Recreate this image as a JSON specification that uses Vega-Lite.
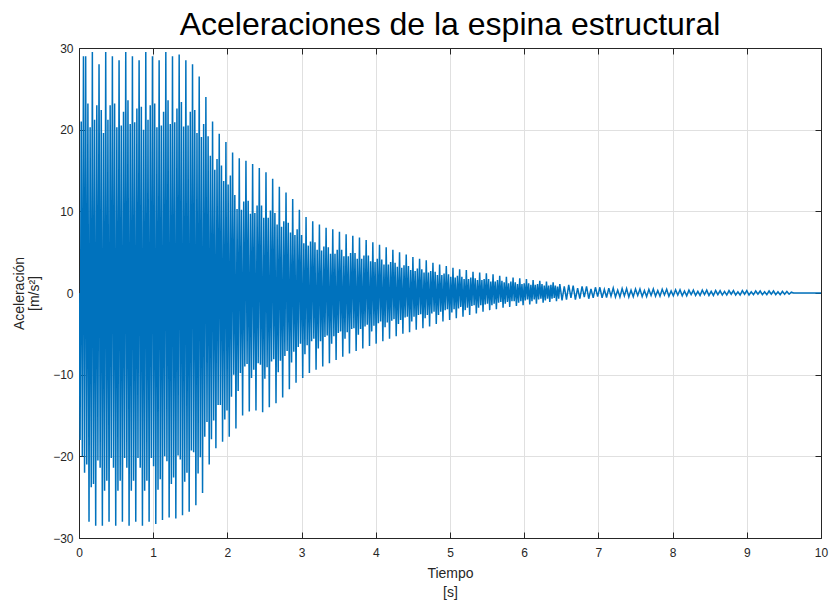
{
  "$schema": "https://vega.github.io/schema/vega-lite/v6.json",
  "width": 742,
  "height": 490,
  "autosize": "none",
  "padding": {"left": 79, "top": 48, "right": 10, "bottom": 62},
  "background": "white",
  "title": {"text": "Aceleraciones de la espina estructural", "fontSize": 32, "font": "Liberation Sans", "fontWeight": "normal", "color": "#000000", "anchor": "middle", "offset": 0},
  "config": {
    "font": "Liberation Sans",
    "view": {"stroke": null},
    "axis": {"domainColor": "#262626", "tickColor": "#262626", "labelColor": "#262626", "titleColor": "#262626", "labelFont": "Liberation Sans", "titleFont": "Liberation Sans", "titleFontWeight": "normal", "gridColor": "#e0e0e0", "gridOpacity": 1, "labelFlush": false}
  },
  "data": {"values": [
{"t":0,"a":0},{"t":0.015,"a":-18},{"t":0.03,"a":21},{"t":0.045,"a":-20},{"t":0.06,"a":29},{"t":0.075,"a":-22},
{"t":0.09,"a":29},{"t":0.105,"a":-21},{"t":0.12,"a":23.2},{"t":0.135,"a":-28},{"t":0.15,"a":20.3},{"t":0.165,"a":-23.8},
{"t":0.18,"a":29.5},{"t":0.195,"a":-23.4},{"t":0.21,"a":21.2},{"t":0.225,"a":-28.5},{"t":0.24,"a":23},{"t":0.255,"a":-20.5},
{"t":0.27,"a":28},{"t":0.285,"a":-21.4},{"t":0.3,"a":22.4},{"t":0.315,"a":-28.5},{"t":0.33,"a":19.6},{"t":0.345,"a":-24.2},
{"t":0.36,"a":29.5},{"t":0.375,"a":-23},{"t":0.39,"a":21.2},{"t":0.405,"a":-28},{"t":0.42,"a":23},{"t":0.435,"a":-20.2},
{"t":0.45,"a":29},{"t":0.465,"a":-21.4},{"t":0.48,"a":23.2},{"t":0.495,"a":-28.5},{"t":0.51,"a":20.3},{"t":0.525,"a":-24.2},
{"t":0.54,"a":28.5},{"t":0.555,"a":-23},{"t":0.57,"a":20.5},{"t":0.585,"a":-28},{"t":0.6,"a":22.2},{"t":0.615,"a":-20.2},
{"t":0.63,"a":29.5},{"t":0.645,"a":-21.4},{"t":0.66,"a":23.6},{"t":0.675,"a":-28.5},{"t":0.69,"a":20.7},{"t":0.705,"a":-24.2},
{"t":0.72,"a":29},{"t":0.735,"a":-23},{"t":0.75,"a":20.9},{"t":0.765,"a":-28},{"t":0.78,"a":22.6},{"t":0.795,"a":-20.2},
{"t":0.81,"a":28.5},{"t":0.825,"a":-21.4},{"t":0.84,"a":22.8},{"t":0.855,"a":-28.5},{"t":0.87,"a":20},{"t":0.885,"a":-24.2},
{"t":0.9,"a":29.5},{"t":0.915,"a":-23},{"t":0.93,"a":21.2},{"t":0.945,"a":-28},{"t":0.96,"a":23},{"t":0.975,"a":-20.2},
{"t":0.99,"a":29},{"t":1.005,"a":-21.2},{"t":1.02,"a":23.2},{"t":1.035,"a":-28.3},{"t":1.05,"a":20.3},{"t":1.065,"a":-24.1},
{"t":1.08,"a":28.5},{"t":1.095,"a":-22.8},{"t":1.11,"a":20.5},{"t":1.125,"a":-27.8},{"t":1.14,"a":22.2},{"t":1.155,"a":-20},
{"t":1.17,"a":29.5},{"t":1.185,"a":-20.6},{"t":1.2,"a":23.6},{"t":1.215,"a":-27.5},{"t":1.23,"a":20.7},{"t":1.245,"a":-23.4},
{"t":1.26,"a":29},{"t":1.275,"a":-22.6},{"t":1.29,"a":20.9},{"t":1.305,"a":-27.6},{"t":1.32,"a":22.6},{"t":1.335,"a":-19.9},
{"t":1.35,"a":29.2},{"t":1.365,"a":-20.4},{"t":1.38,"a":23.4},{"t":1.395,"a":-27.2},{"t":1.41,"a":20.4},{"t":1.425,"a":-23.1},
{"t":1.44,"a":28.5},{"t":1.455,"a":-22},{"t":1.47,"a":20.5},{"t":1.485,"a":-26.8},{"t":1.5,"a":22.2},{"t":1.515,"a":-19.3},
{"t":1.53,"a":28},{"t":1.545,"a":-19.5},{"t":1.56,"a":22.4},{"t":1.575,"a":-26},{"t":1.59,"a":19.6},{"t":1.605,"a":-22.1},
{"t":1.62,"a":26.5},{"t":1.635,"a":-20.1},{"t":1.65,"a":19.1},{"t":1.665,"a":-24.5},{"t":1.68,"a":20.7},{"t":1.695,"a":-17.6},
{"t":1.71,"a":24},{"t":1.725,"a":-15.8},{"t":1.74,"a":19.2},{"t":1.755,"a":-21},{"t":1.77,"a":16.8},{"t":1.785,"a":-17.9},
{"t":1.8,"a":21},{"t":1.815,"a":-15.6},{"t":1.83,"a":15.1},{"t":1.845,"a":-19},{"t":1.86,"a":16.4},{"t":1.875,"a":-13.7},
{"t":1.89,"a":19.5},{"t":1.905,"a":-13.7},{"t":1.92,"a":15.6},{"t":1.935,"a":-18.2},{"t":1.95,"a":13.7},{"t":1.965,"a":-15.5},
{"t":1.98,"a":18.5},{"t":1.995,"a":-14.4},{"t":2.01,"a":13.3},{"t":2.025,"a":-17.6},{"t":2.04,"a":14.4},{"t":2.055,"a":-12.7},
{"t":2.07,"a":17.2},{"t":2.085,"a":-10},{"t":2.1,"a":12},{"t":2.115,"a":-16.6},{"t":2.13,"a":10.3},{"t":2.145,"a":-12},
{"t":2.16,"a":16.5},{"t":2.175,"a":-9.8},{"t":2.19,"a":10.2},{"t":2.205,"a":-15},{"t":2.22,"a":11.2},{"t":2.235,"a":-9},
{"t":2.25,"a":16.2},{"t":2.265,"a":-8.7},{"t":2.28,"a":11.3},{"t":2.295,"a":-14.5},{"t":2.31,"a":9.7},{"t":2.325,"a":-10.4},
{"t":2.34,"a":15.8},{"t":2.355,"a":-9.4},{"t":2.37,"a":9.8},{"t":2.385,"a":-14.4},{"t":2.4,"a":10.7},{"t":2.415,"a":-8.6},
{"t":2.43,"a":15.3},{"t":2.445,"a":-8.8},{"t":2.46,"a":10.7},{"t":2.475,"a":-14.6},{"t":2.49,"a":9.2},{"t":2.505,"a":-10.5},
{"t":2.52,"a":14.8},{"t":2.535,"a":-9.1},{"t":2.55,"a":9.2},{"t":2.565,"a":-14},{"t":2.58,"a":10.1},{"t":2.595,"a":-8.4},
{"t":2.61,"a":14},{"t":2.625,"a":-8.1},{"t":2.64,"a":9.8},{"t":2.655,"a":-13.5},{"t":2.67,"a":8.4},{"t":2.685,"a":-9.7},
{"t":2.7,"a":13},{"t":2.715,"a":-8.3},{"t":2.73,"a":8.1},{"t":2.745,"a":-12.8},{"t":2.76,"a":8.8},{"t":2.775,"a":-7.7},
{"t":2.79,"a":12.3},{"t":2.805,"a":-7.1},{"t":2.82,"a":8.6},{"t":2.835,"a":-11.8},{"t":2.85,"a":7.4},{"t":2.865,"a":-8.5},
{"t":2.88,"a":11.5},{"t":2.895,"a":-7.2},{"t":2.91,"a":7.1},{"t":2.925,"a":-11},{"t":2.94,"a":7.8},{"t":2.955,"a":-6.6},
{"t":2.97,"a":10.2},{"t":2.985,"a":-6.2},{"t":3.0,"a":7.1},{"t":3.015,"a":-10.4},{"t":3.03,"a":6.1},{"t":3.045,"a":-7.5},
{"t":3.06,"a":9.3},{"t":3.075,"a":-6.4},{"t":3.09,"a":5.8},{"t":3.105,"a":-9.8},{"t":3.12,"a":6.3},{"t":3.135,"a":-5.9},
{"t":3.15,"a":8.8},{"t":3.165,"a":-5.6},{"t":3.18,"a":6.2},{"t":3.195,"a":-9.4},{"t":3.21,"a":5.3},{"t":3.225,"a":-6.8},
{"t":3.24,"a":8.4},{"t":3.255,"a":-5.9},{"t":3.27,"a":5.2},{"t":3.285,"a":-9},{"t":3.3,"a":5.7},{"t":3.315,"a":-5.4},
{"t":3.33,"a":8},{"t":3.345,"a":-5.2},{"t":3.36,"a":5.6},{"t":3.375,"a":-8.6},{"t":3.39,"a":4.8},{"t":3.405,"a":-6.2},
{"t":3.42,"a":7.8},{"t":3.435,"a":-5.3},{"t":3.45,"a":4.8},{"t":3.465,"a":-8.2},{"t":3.48,"a":5.3},{"t":3.495,"a":-4.9},
{"t":3.51,"a":7.5},{"t":3.525,"a":-4.7},{"t":3.54,"a":5.3},{"t":3.555,"a":-7.8},{"t":3.57,"a":4.5},{"t":3.585,"a":-5.6},
{"t":3.6,"a":7.2},{"t":3.615,"a":-4.8},{"t":3.63,"a":4.5},{"t":3.645,"a":-7.4},{"t":3.66,"a":4.9},{"t":3.675,"a":-4.4},
{"t":3.69,"a":7},{"t":3.705,"a":-4.3},{"t":3.72,"a":4.9},{"t":3.735,"a":-7.1},{"t":3.75,"a":4.2},{"t":3.765,"a":-5.1},
{"t":3.78,"a":6.8},{"t":3.795,"a":-4.4},{"t":3.81,"a":4.2},{"t":3.825,"a":-6.8},{"t":3.84,"a":4.6},{"t":3.855,"a":-4.1},
{"t":3.87,"a":6.5},{"t":3.885,"a":-3.9},{"t":3.9,"a":4.6},{"t":3.915,"a":-6.5},{"t":3.93,"a":3.9},{"t":3.945,"a":-4.7},
{"t":3.96,"a":6.2},{"t":3.975,"a":-4},{"t":3.99,"a":3.8},{"t":4.005,"a":-6.2},{"t":4.02,"a":4.2},{"t":4.035,"a":-3.7},
{"t":4.05,"a":5.9},{"t":4.065,"a":-3.5},{"t":4.08,"a":4.1},{"t":4.095,"a":-5.9},{"t":4.11,"a":3.5},{"t":4.125,"a":-4.2},
{"t":4.14,"a":5.6},{"t":4.155,"a":-3.6},{"t":4.17,"a":3.5},{"t":4.185,"a":-5.6},{"t":4.2,"a":3.8},{"t":4.215,"a":-3.4},
{"t":4.23,"a":5.3},{"t":4.245,"a":-3.2},{"t":4.26,"a":3.7},{"t":4.275,"a":-5.3},{"t":4.29,"a":3.2},{"t":4.305,"a":-3.8},
{"t":4.32,"a":5},{"t":4.335,"a":-3.3},{"t":4.35,"a":3.1},{"t":4.365,"a":-5},{"t":4.38,"a":3.4},{"t":4.395,"a":-3},
{"t":4.41,"a":4.7},{"t":4.425,"a":-2.9},{"t":4.44,"a":3.3},{"t":4.455,"a":-4.8},{"t":4.47,"a":2.8},{"t":4.485,"a":-3.5},
{"t":4.5,"a":4.4},{"t":4.515,"a":-2.9},{"t":4.53,"a":2.7},{"t":4.545,"a":-4.5},{"t":4.56,"a":3},{"t":4.575,"a":-2.7},
{"t":4.59,"a":4.2},{"t":4.605,"a":-2.6},{"t":4.62,"a":2.9},{"t":4.635,"a":-4.3},{"t":4.65,"a":2.5},{"t":4.665,"a":-3.1},
{"t":4.68,"a":4},{"t":4.695,"a":-2.7},{"t":4.71,"a":2.5},{"t":4.725,"a":-4.1},{"t":4.74,"a":2.7},{"t":4.755,"a":-2.5},
{"t":4.77,"a":3.7},{"t":4.785,"a":-2.3},{"t":4.8,"a":2.6},{"t":4.815,"a":-3.8},{"t":4.83,"a":2.2},{"t":4.845,"a":-2.7},
{"t":4.86,"a":3.5},{"t":4.875,"a":-2.3},{"t":4.89,"a":2.2},{"t":4.905,"a":-3.5},{"t":4.92,"a":2.4},{"t":4.935,"a":-2.1},
{"t":4.95,"a":3.3},{"t":4.965,"a":-2},{"t":4.98,"a":2.3},{"t":4.995,"a":-3.3},{"t":5.01,"a":2},{"t":5.025,"a":-2.4},
{"t":5.04,"a":3.1},{"t":5.055,"a":-2},{"t":5.07,"a":1.9},{"t":5.085,"a":-3.1},{"t":5.1,"a":2.1},{"t":5.115,"a":-1.9},
{"t":5.13,"a":2.9},{"t":5.145,"a":-1.7},{"t":5.16,"a":2},{"t":5.175,"a":-2.9},{"t":5.19,"a":1.7},{"t":5.205,"a":-2.1},
{"t":5.22,"a":2.8},{"t":5.235,"a":-1.8},{"t":5.25,"a":1.7},{"t":5.265,"a":-2.7},{"t":5.28,"a":1.9},{"t":5.295,"a":-1.6},
{"t":5.31,"a":2.6},{"t":5.325,"a":-1.5},{"t":5.34,"a":1.8},{"t":5.355,"a":-2.5},{"t":5.37,"a":1.6},{"t":5.385,"a":-1.8},
{"t":5.4,"a":2.5},{"t":5.415,"a":-1.5},{"t":5.43,"a":1.6},{"t":5.445,"a":-2.3},{"t":5.46,"a":1.7},{"t":5.475,"a":-1.4},
{"t":5.49,"a":2.4},{"t":5.505,"a":-1.3},{"t":5.52,"a":1.7},{"t":5.535,"a":-2.1},{"t":5.55,"a":1.4},{"t":5.565,"a":-1.5},
{"t":5.58,"a":2.3},{"t":5.595,"a":-1.3},{"t":5.61,"a":1.4},{"t":5.625,"a":-2},{"t":5.64,"a":1.6},{"t":5.655,"a":-1.2},
{"t":5.67,"a":2.1},{"t":5.685,"a":-1.1},{"t":5.7,"a":1.5},{"t":5.715,"a":-1.8},{"t":5.73,"a":1.3},{"t":5.745,"a":-1.3},
{"t":5.76,"a":2},{"t":5.775,"a":-1.1},{"t":5.79,"a":1.2},{"t":5.805,"a":-1.7},{"t":5.82,"a":1.4},{"t":5.835,"a":-1},
{"t":5.85,"a":1.9},{"t":5.865,"a":-1},{"t":5.88,"a":1.3},{"t":5.895,"a":-1.6},{"t":5.91,"a":1.1},{"t":5.925,"a":-1.2},
{"t":5.94,"a":1.8},{"t":5.955,"a":-1},{"t":5.97,"a":1.1},{"t":5.985,"a":-1.5},{"t":6.0,"a":1.2},{"t":6.015,"a":-0.9},
{"t":6.03,"a":1.7},{"t":6.045,"a":-0.8},{"t":6.06,"a":1.2},{"t":6.075,"a":-1.4},{"t":6.09,"a":1},{"t":6.105,"a":-1},
{"t":6.12,"a":1.6},{"t":6.135,"a":-0.8},{"t":6.15,"a":1},{"t":6.165,"a":-1.3},{"t":6.18,"a":1.1},{"t":6.195,"a":-0.8},
{"t":6.21,"a":1.5},{"t":6.225,"a":-0.7},{"t":6.24,"a":1.1},{"t":6.255,"a":-1.2},{"t":6.27,"a":0.9},{"t":6.285,"a":-0.9},
{"t":6.3,"a":1.4},{"t":6.315,"a":-0.7},{"t":6.33,"a":0.9},{"t":6.345,"a":-1.1},{"t":6.36,"a":1},{"t":6.375,"a":-0.7},
{"t":6.39,"a":1.3},{"t":6.405,"a":-0.6},{"t":6.42,"a":0.9},{"t":6.435,"a":-1},{"t":6.45,"a":0.8},{"t":6.465,"a":-0.7},
{"t":6.48,"a":1.1},{"t":6.51,"a":-0.9},{"t":6.54,"a":0.8},{"t":6.57,"a":-0.8},{"t":6.6,"a":1.0},{"t":6.63,"a":-0.6},
{"t":6.66,"a":0.9},{"t":6.69,"a":-0.8},{"t":6.72,"a":0.6},{"t":6.75,"a":-0.7},{"t":6.78,"a":0.8},{"t":6.81,"a":-0.5},
{"t":6.84,"a":0.8},{"t":6.87,"a":-0.7},{"t":6.9,"a":0.5},{"t":6.93,"a":-0.6},{"t":6.96,"a":0.7},{"t":6.99,"a":-0.45},
{"t":7.02,"a":0.7},{"t":7.05,"a":-0.6},{"t":7.08,"a":0.45},{"t":7.11,"a":-0.55},{"t":7.14,"a":0.6},{"t":7.17,"a":-0.4},
{"t":7.2,"a":0.6},{"t":7.23,"a":-0.5},{"t":7.26,"a":0.35},{"t":7.29,"a":-0.5},{"t":7.32,"a":0.55},{"t":7.35,"a":-0.35},
{"t":7.38,"a":0.55},{"t":7.41,"a":-0.5},{"t":7.44,"a":0.35},{"t":7.47,"a":-0.45},{"t":7.5,"a":0.5},{"t":7.53,"a":-0.3},
{"t":7.56,"a":0.5},{"t":7.59,"a":-0.45},{"t":7.62,"a":0.3},{"t":7.65,"a":-0.45},{"t":7.68,"a":0.45},{"t":7.71,"a":-0.3},
{"t":7.74,"a":0.5},{"t":7.77,"a":-0.4},{"t":7.8,"a":0.3},{"t":7.83,"a":-0.4},{"t":7.86,"a":0.45},{"t":7.89,"a":-0.25},
{"t":7.92,"a":0.45},{"t":7.95,"a":-0.4},{"t":7.98,"a":0.25},{"t":8.01,"a":-0.35},{"t":8.04,"a":0.4},{"t":8.07,"a":-0.25},
{"t":8.1,"a":0.4},{"t":8.13,"a":-0.35},{"t":8.16,"a":0.25},{"t":8.19,"a":-0.35},{"t":8.22,"a":0.35},{"t":8.25,"a":-0.2},
{"t":8.28,"a":0.35},{"t":8.31,"a":-0.3},{"t":8.34,"a":0.2},{"t":8.37,"a":-0.3},{"t":8.4,"a":0.35},{"t":8.43,"a":-0.2},
{"t":8.46,"a":0.35},{"t":8.49,"a":-0.3},{"t":8.52,"a":0.2},{"t":8.55,"a":-0.3},{"t":8.58,"a":0.3},{"t":8.61,"a":-0.2},
{"t":8.64,"a":0.3},{"t":8.67,"a":-0.25},{"t":8.7,"a":0.2},{"t":8.73,"a":-0.25},{"t":8.76,"a":0.3},{"t":8.79,"a":-0.15},
{"t":8.82,"a":0.3},{"t":8.85,"a":-0.25},{"t":8.88,"a":0.15},{"t":8.91,"a":-0.25},{"t":8.94,"a":0.3},{"t":8.97,"a":-0.15},
{"t":9.0,"a":0.3},{"t":9.03,"a":-0.25},{"t":9.06,"a":0.15},{"t":9.09,"a":-0.2},{"t":9.12,"a":0.25},{"t":9.15,"a":-0.15},
{"t":9.18,"a":0.25},{"t":9.21,"a":-0.2},{"t":9.24,"a":0.15},{"t":9.27,"a":-0.2},{"t":9.3,"a":0.25},{"t":9.33,"a":-0.15},
{"t":9.36,"a":0.25},{"t":9.39,"a":-0.2},{"t":9.42,"a":0.15},{"t":9.45,"a":-0.2},{"t":9.48,"a":0.2},{"t":9.51,"a":-0.15},
{"t":9.54,"a":0.2},{"t":9.57,"a":-0.15},{"t":9.6,"a":0.1},{"t":9.63,"a":0},{"t":10,"a":0}
  ]},
  "layer": [
    {
      "mark": {"type": "line", "color": "#0072BD", "strokeWidth": 1.5, "clip": true},
      "encoding": {
        "x": {"field": "t", "type": "quantitative", "scale": {"domain": [0, 10], "nice": false, "zero": false},
              "axis": {"orient": "bottom", "values": [0,1,2,3,4,5,6,7,8,9,10], "grid": true, "tickSize": -6, "labelFontSize": 12, "labelPadding": 15, "title": ["Tiempo", "[s]"], "titleFontSize": 14, "titleLineHeight": 19, "titlePadding": 8}},
        "y": {"field": "a", "type": "quantitative", "scale": {"domain": [-30, 30], "nice": false, "zero": false},
              "axis": {"orient": "left", "values": [-30,-20,-10,0,10,20,30], "grid": true, "tickSize": -6, "labelFontSize": 12, "labelPadding": 12, "title": ["Aceleración", "[m/s²]"], "titleFontSize": 14, "titleLineHeight": 15, "titlePadding": 11}}
      }
    },
    {
      "mark": {"type": "line", "strokeOpacity": 0},
      "encoding": {
        "x": {"field": "t", "type": "quantitative", "axis": {"orient": "top", "values": [0,1,2,3,4,5,6,7,8,9,10], "grid": false, "labels": false, "tickSize": -6, "title": null}},
        "y": {"field": "a", "type": "quantitative", "axis": {"orient": "right", "values": [-30,-20,-10,0,10,20,30], "grid": false, "labels": false, "tickSize": -6, "title": null}}
      }
    }
  ],
  "resolve": {"axis": {"x": "independent", "y": "independent"}}
}
